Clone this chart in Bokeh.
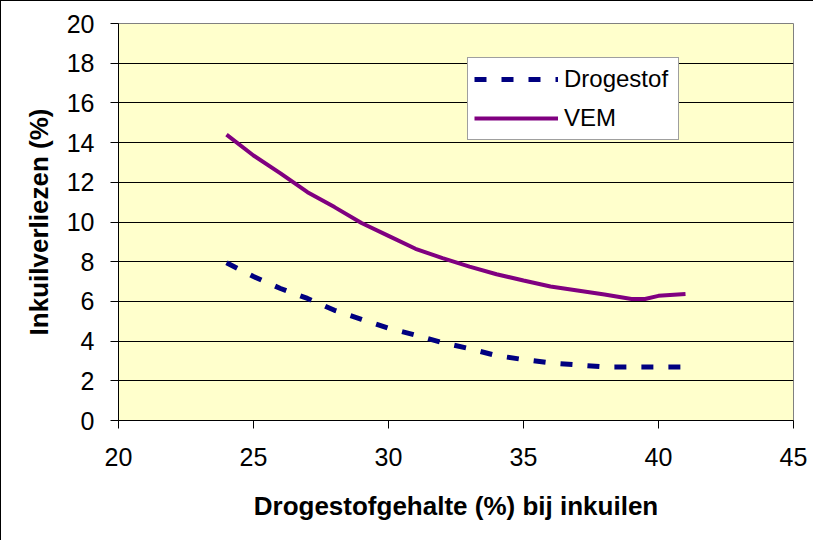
from bokeh.plotting import figure
from bokeh.models import Range1d, FixedTicker, Legend, LegendItem
from bokeh.embed import file_html
from bokeh.resources import INLINE

# Data
x_vals = [24, 25, 26, 27, 28, 29, 30, 31, 32, 33, 34, 35, 36, 37, 38, 39, 39.5, 40, 41]
vem = [14.4, 13.35, 12.45, 11.5, 10.75, 9.95, 9.3, 8.65, 8.18, 7.75, 7.37, 7.05, 6.75, 6.55, 6.35, 6.12, 6.12, 6.28, 6.37]

x_ds = [24, 25, 26, 27, 28, 29, 30, 31, 32, 33, 34, 35, 36, 37, 38, 39, 40, 41]
drogestof = [7.95, 7.25, 6.65, 6.15, 5.55, 5.1, 4.65, 4.3, 3.92, 3.62, 3.27, 3.07, 2.9, 2.8, 2.7, 2.7, 2.7, 2.7]

x_ticks = [20, 25, 30, 35, 40, 45]
y_ticks = [0, 2, 4, 6, 8, 10, 12, 14, 16, 18, 20]

x_title = "Drogestofgehalte (%) bij inkuilen"
y_title = "Inkuilverliezen (%)"
series_names = ["Drogestof", "VEM"]

FONT = "Liberation Sans"

p = figure(width=813, height=540, output_backend="svg", toolbar_location=None,
           x_range=Range1d(20, 45), y_range=Range1d(0, 20),
           min_border_left=117, min_border_right=21, min_border_top=22, min_border_bottom=121)
p.styles = {"border-left": "1px solid black", "border-top": "1px solid black"}

p.background_fill_color = "#FFFFCC"
p.border_fill_color = "white"
p.outline_line_color = "#808080"
p.outline_line_width = 1

p.xgrid.grid_line_color = None
p.ygrid.grid_line_color = "black"
p.ygrid.grid_line_width = 1
p.ygrid.ticker = FixedTicker(ticks=y_ticks)

p.xaxis.ticker = FixedTicker(ticks=x_ticks)
p.yaxis.ticker = FixedTicker(ticks=y_ticks)

for ax in (p.xaxis[0], p.yaxis[0]):
    ax.axis_line_color = "black"
    ax.major_tick_line_color = "black"
    ax.major_tick_out = 8
    ax.major_tick_in = 0
    ax.minor_tick_line_color = None
    ax.major_label_text_font = FONT
    ax.major_label_text_font_size = "25px"
    ax.major_label_text_color = "black"
    ax.axis_label_text_font = FONT
    ax.axis_label_text_font_size = "26px"
    ax.axis_label_text_font_style = "bold"
    ax.axis_label_text_color = "black"

p.xaxis.axis_label = x_title
p.yaxis.axis_label = y_title
p.xaxis.major_label_standoff = 19
p.yaxis.major_label_standoff = 16
p.xaxis.axis_label_standoff = 22
p.yaxis.axis_label_standoff = 10

r_ds = p.line(x_ds, drogestof, line_color="#000080", line_width=5, line_dash="12 15")
r_vem = p.line(x_vals, vem, line_color="#800080", line_width=4)

legend = Legend(items=[LegendItem(label=series_names[0], renderers=[r_ds]),
                       LegendItem(label=series_names[1], renderers=[r_vem])],
                location=(349, 280))
legend.background_fill_color = "white"
legend.background_fill_alpha = 1
legend.border_line_color = "#404040"
legend.border_line_width = 1
legend.label_text_font = FONT
legend.label_text_font_size = "24px"
legend.label_text_color = "black"
legend.glyph_width = 84
legend.glyph_height = 30
legend.label_height = 30
legend.label_width = 108
legend.label_standoff = 6
legend.spacing = 9
legend.padding = 6
legend.margin = 0
p.add_layout(legend, "center")

open("out.html", "w").write(file_html(p, INLINE))
